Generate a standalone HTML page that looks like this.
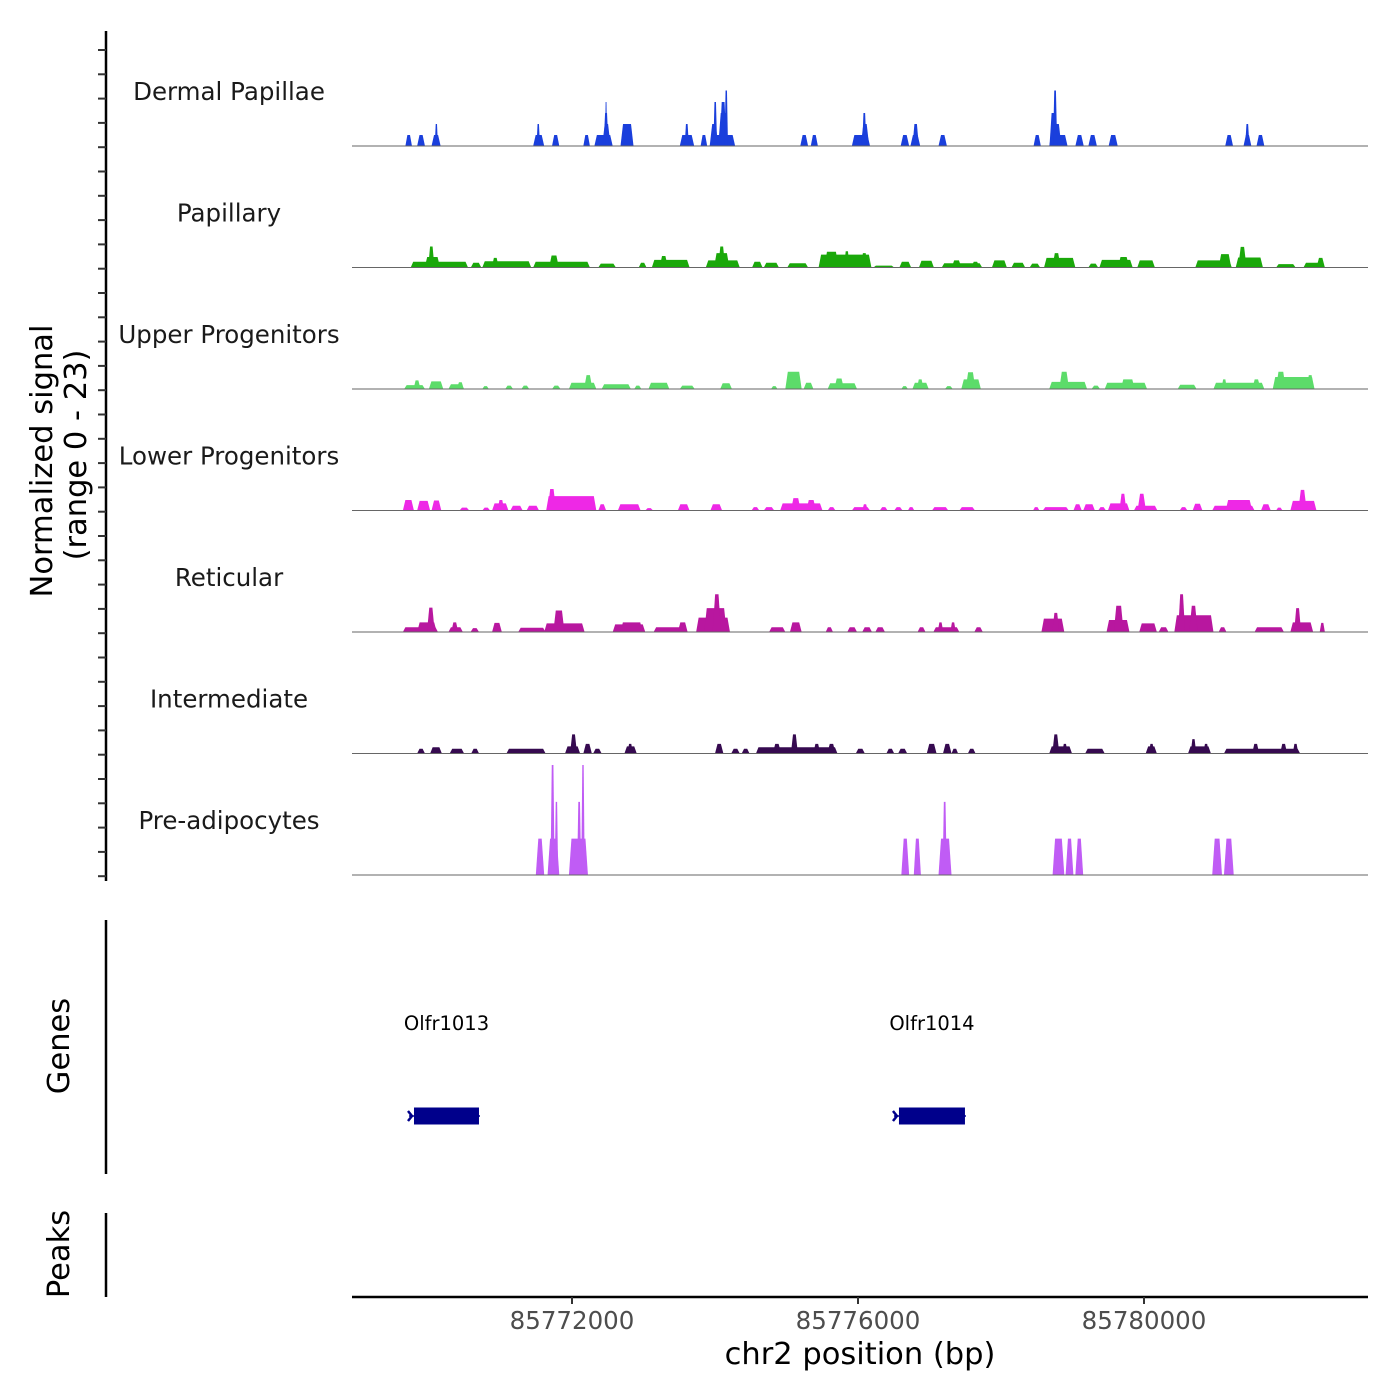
<!DOCTYPE html>
<html><head><meta charset="utf-8"><style>
html,body{margin:0;padding:0;background:#fff;}
svg{display:block;font-family:"DejaVu Sans","Liberation Sans",sans-serif;}
</style></head><body>
<svg id="chart" width="1400" height="1400" viewBox="0 0 1400 1400" xmlns="http://www.w3.org/2000/svg">
<rect width="1400" height="1400" fill="#fff"/>
<g id="tracks"></g>
<g id="axes"></g>
<g id="genes"></g>
</svg>
<script>
const regionStart = 85768923;
const regionEnd = 85783133;
// segment positions are given in bins of binSizeBp base pairs from regionStart
const binSizeBp = 1.955;
const trackNames = ["Dermal Papillae","Papillary","Upper Progenitors","Lower Progenitors","Reticular","Intermediate","Pre-adipocytes"];
const trackColors = ["#1a3fdc","#1aa80a","#5cdc6a","#ee28e6","#b8179f","#360a50","#c05cf5"];
const xTicks = [85772000, 85776000, 85780000];
const yRangeMax = 23;
// segments: [startBin, endBin, value]
const dermalPapillae = [[382,429,2.3],[466,522,2.3],[569,634,2.3],[592,615,4.6],[1296,1375,2.3],[1320,1345,4.6],[1431,1483,2.3],[1655,1702,2.3],[1734,1865,2.3],[1790,1850,4.6],[1800,1835,6.9],[1810,1825,9.2],[1921,2014,4.6],[2345,2448,2.3],[2380,2410,4.6],[2494,2541,2.3],[2559,2741,2.3],[2559,2620,4.6],[2585,2612,9.2],[2620,2690,6.9],[2630,2680,9.2],[2665,2690,11.6],[3207,3263,2.3],[3282,3333,2.3],[3576,3706,2.3],[3640,3700,4.6],[3650,3680,6.9],[3925,3986,2.3],[3995,4065,2.3],[4010,4055,4.6],[4196,4256,2.3],[4876,4928,2.3],[4988,5119,2.3],[4990,5075,4.6],[4990,5040,6.9],[5015,5045,11.6],[5175,5235,2.3],[5268,5329,2.3],[5413,5478,2.3],[6247,6303,2.3],[6378,6434,2.3],[6390,6420,4.6],[6471,6527,2.3]];
const papillary = [[420,830,1.2],[520,630,2.2],[545,590,4.4],[850,925,1.0],[932,1282,1.3],[1000,1050,2.0],[1296,1702,1.2],[1410,1480,2.5],[1762,1888,0.8],[2051,2107,1.0],[2145,2415,1.6],[2200,2260,2.4],[2531,2774,1.5],[2590,2700,3.0],[2620,2670,4.4],[2862,2937,1.2],[2946,3054,1.0],[3114,3263,0.9],[3338,3716,2.7],[3380,3480,3.3],[3520,3560,3.4],[3640,3690,3.0],[3730,3879,0.4],[3916,4000,1.2],[4056,4163,1.4],[4219,4508,0.9],[4290,4360,1.5],[4430,4490,1.2],[4578,4685,1.5],[4718,4816,1.0],[4848,4923,0.8],[4951,5175,2.0],[5010,5070,3.0],[5268,5338,0.8],[5347,5585,1.6],[5480,5560,2.2],[5618,5744,1.5],[6033,6294,1.5],[6200,6290,2.8],[6322,6517,2.1],[6340,6400,4.3],[6611,6751,0.7],[6807,6960,1.0],[6900,6960,2.0]];
const upperProgenitors = [[373,522,0.8],[440,490,1.8],[550,653,1.6],[690,802,1.0],[750,800,1.4],[932,979,0.6],[1096,1152,0.7],[1212,1268,0.7],[1431,1492,0.7],[1552,1748,1.3],[1660,1720,2.9],[1786,1995,1.0],[2019,2070,0.7],[2121,2270,1.3],[2345,2452,0.7],[2634,2718,1.2],[2998,3044,0.6],[3100,3217,3.6],[3231,3301,1.3],[3403,3613,1.2],[3450,3520,2.2],[3930,3977,0.6],[4009,4126,1.3],[4040,4090,2.0],[4242,4298,0.6],[4359,4499,2.0],[4390,4460,3.5],[4988,5259,1.5],[5060,5130,3.6],[5291,5352,0.7],[5385,5688,1.3],[5500,5600,2.0],[5907,6042,0.9],[6163,6527,1.3],[6220,6260,2.0],[6440,6500,2.0],[6587,6886,2.5],[6610,6680,3.6],[6830,6880,2.9]];
const lowerProgenitors = [[364,443,2.2],[466,559,2.0],[569,639,2.1],[769,839,0.6],[932,988,0.6],[1002,1119,1.5],[1040,1090,2.2],[1133,1221,1.0],[1249,1338,1.0],[1389,1748,3.0],[1400,1460,4.5],[1762,1818,1.3],[1902,2065,1.3],[2098,2154,0.5],[2331,2415,1.3],[2564,2648,1.3],[2858,2914,0.7],[2946,3021,0.7],[3063,3366,1.5],[3140,3210,2.6],[3250,3320,2.2],[3403,3459,0.7],[3576,3706,0.7],[3650,3690,1.3],[3776,3832,0.7],[3879,3939,0.7],[3977,4023,0.7],[4149,4266,0.7],[4345,4457,0.7],[4872,4918,0.7],[4942,5128,0.7],[5161,5221,1.3],[5231,5315,1.3],[5338,5394,0.7],[5408,5562,1.5],[5490,5540,3.5],[5594,5762,1.0],[5620,5680,3.5],[5921,5977,0.7],[6014,6084,1.4],[6154,6457,1.0],[6250,6440,2.2],[6503,6573,1.3],[6611,6657,0.6],[6713,6900,2.0],[6770,6830,4.3]];
const reticular = [[364,615,1.0],[466,606,2.0],[536,592,5.1],[690,793,1.0],[710,760,2.0],[848,909,0.8],[1002,1072,1.9],[1189,1385,0.9],[1375,1664,1.8],[1440,1520,4.5],[1865,2098,1.6],[1920,2080,2.0],[2158,2401,1.0],[2331,2401,2.0],[2462,2704,3.0],[2520,2680,5.0],[2580,2640,7.9],[2984,3100,1.0],[3133,3217,2.0],[3389,3441,1.0],[3543,3613,1.0],[3650,3720,1.0],[3744,3813,1.0],[4046,4103,1.0],[4159,4345,1.0],[4190,4230,2.0],[4280,4320,2.0],[4452,4513,1.0],[4932,5096,2.8],[5010,5060,4.0],[5398,5562,2.5],[5450,5520,5.5],[5632,5758,1.8],[5771,5841,1.0],[5883,6163,3.5],[5910,5960,7.9],[5990,6050,5.5],[6200,6256,1.0],[6457,6667,1.0],[6713,6876,2.0],[6740,6790,5.0],[6923,6960,1.9]];
const intermediate = [[466,522,1.0],[559,643,1.3],[699,802,1.0],[853,909,1.0],[1105,1385,1.0],[1524,1632,1.5],[1560,1610,4.0],[1655,1716,2.0],[1725,1786,1.0],[1949,2037,1.5],[1970,2010,2.0],[2597,2657,2.0],[2713,2774,1.0],[2788,2844,1.0],[2890,3473,1.3],[3010,3070,2.0],[3140,3190,4.0],[3300,3350,2.0],[3400,3460,2.0],[3604,3669,1.0],[3823,3879,1.0],[3907,3972,1.0],[4112,4182,2.0],[4228,4289,2.0],[4289,4336,1.0],[4406,4461,1.0],[4988,5151,1.5],[5010,5060,4.0],[5080,5120,2.0],[5245,5385,1.0],[5678,5758,1.5],[5700,5740,2.0],[5981,6145,1.5],[6000,6040,3.0],[6090,6130,2.0],[6238,6783,1.0],[6440,6490,2.0],[6640,6690,2.0],[6730,6770,2.0]];
const preAdipocytes = [[1315,1375,7.6],[1399,1483,7.6],[1420,1450,23],[1450,1475,15.3],[1552,1688,7.6],[1610,1640,15.3],[1640,1665,23],[3930,3986,7.6],[4019,4070,7.6],[4196,4289,7.6],[4225,4255,15.3],[5012,5096,7.6],[5105,5161,7.6],[5175,5231,7.6],[6154,6224,7.6],[6238,6308,7.6]];
const trackData = [dermalPapillae,papillary,upperProgenitors,lowerProgenitors,reticular,intermediate,preAdipocytes];
const geneNames = ["Olfr1013","Olfr1014"];
const geneStarts = [85769790, 85776573];
const geneEnds = [85770699, 85777496];

const NS = "http://www.w3.org/2000/svg";
const X0 = 352, X1 = 1368;
function xScale(bp){ return X0 + (bp - regionStart) / (regionEnd - regionStart) * (X1 - X0); }
const firstBase = 146, trackStep = 121.5, trackPx = 110;
function baseY(i){ return firstBase + i * trackStep; }
function yScale(i, v){ return baseY(i) - v / yRangeMax * trackPx; }
function mk(tag, attrs, parent){ const e = document.createElementNS(NS, tag); for (const k in attrs) e.setAttribute(k, attrs[k]); parent.appendChild(e); return e; }

const tracksG = document.getElementById('tracks');
const axesG = document.getElementById('axes');
const genesG = document.getElementById('genes');

trackNames.forEach((name, i) => {
  const g = mk('g', {}, tracksG);
  
  
  const lbl = mk('text', {x: 229, y: baseY(i) - 46, 'text-anchor': 'middle', 'font-size': 24.5, fill: '#1a1a1a'}, g);
  lbl.textContent = name;
  
  
  trackData[i].forEach(seg => {
    const s = regionStart + seg[0] * binSizeBp, e = regionStart + seg[1] * binSizeBp;
    const xa = xScale(s), xb = xScale(e);
    const ramp = Math.min((xb - xa) * 0.3, 2.5);
    const yb = baseY(i), yt = yScale(i, seg[2]);
    const p = mk('polygon', {points: `${xa},${yb} ${xa+ramp},${yt} ${xb-ramp},${yt} ${xb},${yb}`, fill: trackColors[i]}, g);
    
    
  });
  const bl = mk('line', {x1: X0, x2: X1, y1: baseY(i), y2: baseY(i), stroke: '#666', 'stroke-width': 1}, g);
  
  
});

const yl = mk('line', {x1: 106, x2: 106, y1: 31, y2: 881, stroke: '#000', 'stroke-width': 2.5}, axesG);


for (let k = 0; k < 35; k++) {
  const y = 50 + k * 24.3;
  const t = mk('line', {x1: 98, x2: 106, y1: y, y2: y, stroke: '#333', 'stroke-width': 2}, axesG);
  
  
}
const yt1 = mk('text', {transform: 'translate(52,461) rotate(-90)', 'text-anchor': 'middle', 'font-size': 30.5, fill: '#000'}, axesG);
yt1.textContent = 'Normalized signal';


const yt2 = mk('text', {transform: 'translate(86,455) rotate(-90)', 'text-anchor': 'middle', 'font-size': 30.5, fill: '#000'}, axesG);
yt2.textContent = '(range 0 - 23)';



const gl = mk('line', {x1: 106, x2: 106, y1: 920, y2: 1174, stroke: '#000', 'stroke-width': 2.5}, axesG);


const gt = mk('text', {transform: 'translate(69,1046) rotate(-90)', 'text-anchor': 'middle', 'font-size': 30.5, fill: '#000'}, axesG);
gt.textContent = 'Genes';


const pl = mk('line', {x1: 106, x2: 106, y1: 1213, y2: 1297, stroke: '#000', 'stroke-width': 2.5}, axesG);


const pt = mk('text', {transform: 'translate(69,1254) rotate(-90)', 'text-anchor': 'middle', 'font-size': 30.5, fill: '#000'}, axesG);
pt.textContent = 'Peaks';



const xl = mk('line', {x1: X0, x2: X1, y1: 1297, y2: 1297, stroke: '#000', 'stroke-width': 2.5}, axesG);


xTicks.forEach(v => {
  const x = xScale(v);
  const t = mk('line', {x1: x, x2: x, y1: 1297, y2: 1304, stroke: '#333', 'stroke-width': 2}, axesG);
  
  
  const tl = mk('text', {x: x, y: 1329, 'text-anchor': 'middle', 'font-size': 24.5, fill: '#4d4d4d'}, axesG);
  tl.textContent = String(v);
  
  
});
const xt = mk('text', {x: 860, y: 1364, 'text-anchor': 'middle', 'font-size': 30.5, fill: '#000'}, axesG);
xt.textContent = 'chr2 position (bp)';



geneNames.forEach((n, i) => {
  const xa = xScale(geneStarts[i]), xb = xScale(geneEnds[i]);
  const g = mk('g', {}, genesG);
  
  
  const t = mk('text', {x: (xa + xb) / 2, y: 1030, 'text-anchor': 'middle', 'font-size': 19.5, fill: '#000'}, g);
  t.textContent = n;
  
  
  const ln = mk('line', {x1: xa - 5, x2: xb + 1, y1: 1116, y2: 1116, stroke: '#00008b', 'stroke-width': 1.5}, g);
  
  
  const r = mk('rect', {x: xa, y: 1107.5, width: xb - xa, height: 17, fill: '#00008b'}, g);
  
  
  const a = mk('polyline', {points: `${xa-6},${1111} ${xa-2},${1116} ${xa-6},${1121}`, fill: 'none', stroke: '#00008b', 'stroke-width': 2.5}, g);
  
  
});
</script>
</body></html>
